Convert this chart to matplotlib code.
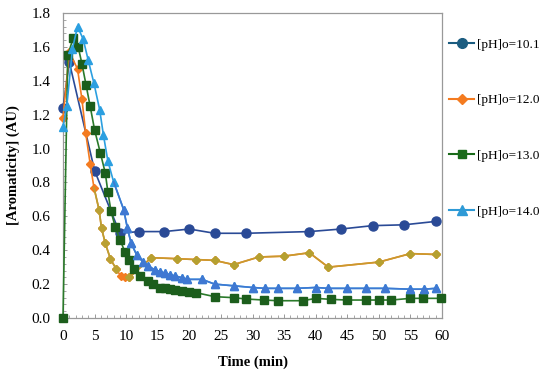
import matplotlib
matplotlib.use("Agg")
from matplotlib import pyplot as plt
from matplotlib.lines import Line2D
from matplotlib.ticker import MultipleLocator

# [pH]o = 10.1
t_101 = [0, 1, 5, 9, 12, 16, 20, 24, 29, 39, 44, 49, 54, 59]
a_101 = [1.24, 1.51, 0.87, 0.50, 0.51, 0.51, 0.525, 0.50, 0.50, 0.51, 0.525, 0.545, 0.55, 0.57]

# [pH]o = 12.0
t_120 = [0, 1, 2.3, 3, 3.6, 4.3, 4.9, 5.7, 6.1, 6.7, 7.5, 8.4, 9.2, 9.8, 10.5,
         14, 18, 21, 24, 27, 31, 35, 39, 42, 50, 55, 59]
a_120 = [1.18, 1.57, 1.47, 1.29, 1.09, 0.91, 0.77, 0.64, 0.53, 0.44, 0.35, 0.29, 0.245, 0.24, 0.24,
         0.356, 0.35, 0.345, 0.34, 0.315, 0.36, 0.365, 0.385, 0.30, 0.33, 0.38, 0.375]

# [pH]o = 13.0
t_130 = [0, 0.75, 1.6, 2.4, 3, 3.65, 4.3, 5, 5.9, 6.7, 7.1, 7.6, 8.25, 9.05, 9.8, 10.4,
         11.2, 12.2, 13.4, 14.3, 15.4, 16.2, 17, 17.8, 18.8, 19.9, 21, 24, 27, 29, 31.8,
         34, 38, 40, 42.4, 45, 48, 50, 52, 55, 57, 59.8]
a_130 = [0.0, 1.55, 1.65, 1.60, 1.50, 1.375, 1.25, 1.11, 0.976, 0.855, 0.745, 0.63, 0.54, 0.46, 0.39, 0.34,
         0.29, 0.245, 0.22, 0.20, 0.18, 0.175, 0.17, 0.165, 0.16, 0.155, 0.15, 0.126, 0.12, 0.112, 0.106,
         0.102, 0.102, 0.116, 0.11, 0.106, 0.106, 0.106, 0.106, 0.116, 0.116, 0.116]

# [pH]o = 14.0
t_140 = [0, 0.6, 1.5, 2.3, 3.2, 4.0, 4.9, 5.8, 6.4, 7.1, 8, 9.6, 10.2, 10.8, 11.7, 12.7, 13.5,
         14.6, 15.4, 16.2, 17, 17.8, 18.8, 19.7, 22, 24, 27, 30, 32, 34, 37, 40, 42, 45, 48,
         51, 55, 57.2, 59]
a_140 = [1.13, 1.25, 1.59, 1.72, 1.645, 1.52, 1.385, 1.23, 1.08, 0.927, 0.805, 0.64, 0.53, 0.44, 0.37, 0.33, 0.307,
         0.283, 0.273, 0.264, 0.254, 0.248, 0.238, 0.228, 0.228, 0.20, 0.19, 0.18, 0.175, 0.175, 0.175, 0.18, 0.175, 0.175, 0.175,
         0.175, 0.17, 0.17, 0.175]

labels = ["[pH]o=10.1", "[pH]o=12.0", "[pH]o=13.0", "[pH]o=14.0"]

plt.rcParams["font.family"] = ["Liberation Serif", "DejaVu Serif"]

fig = plt.figure(figsize=(5.5, 3.73), dpi=100)
ax = fig.add_axes([63/550, 1-318/373, (442-63)/550, (318-13)/373])

lw = 1.2
kw = dict(lw=lw, clip_on=False)
ax.plot(t_101, a_101, color="#2A4A96", marker="o", ms=6.5, zorder=3, **kw)

ax.plot(t_120, a_120, color="#F47B20", marker="D", ms=4.5, zorder=4, **kw)
ax.plot(t_120[6:12], a_120[6:12], color="#B9A033", marker="D", ms=4.5, zorder=4,
        markevery=list(range(1, 6)), **kw)
ax.plot(t_120[14:], a_120[14:], color="#C99A2E", zorder=4, **kw)
ax.plot(t_120[14:], a_120[14:], ls="none", color="#B5A030", marker="D", ms=4.5, zorder=4, clip_on=False)

ax.plot(t_130, a_130, color="#2A7A2A", marker="s", ms=5.5, mfc="#1C5E1C", mec="#1C5E1C", zorder=5, **kw)

ax.plot(t_140, a_140, color="#2B9FE0", marker="^", ms=6, zorder=6, **kw)
ax.plot(t_140[10:], a_140[10:], color="#3F78D2", marker="^", ms=6, zorder=6,
        markevery=list(range(1, len(t_140)-10)), **kw)

ax.set_xlim(0, 60)
ax.set_ylim(0, 1.8)
ax.xaxis.set_major_locator(MultipleLocator(5))
ax.xaxis.set_minor_locator(MultipleLocator(1))
ax.yaxis.set_major_locator(MultipleLocator(0.2))
ax.yaxis.set_minor_locator(MultipleLocator(0.04))
ax.yaxis.set_major_formatter(matplotlib.ticker.FormatStrFormatter("%.1f"))
ax.tick_params(which="both", direction="in", colors="#999999", labelcolor="black", labelsize=11)
ax.tick_params(which="major", length=3, width=0.7)
ax.tick_params(which="minor", length=2, width=0.6)
ax.tick_params(axis="x", pad=9)
ax.tick_params(axis="y", pad=9)
for s in ax.spines.values():
    s.set_color("#999999")
    s.set_linewidth(0.9)

ax.set_xlabel("Time (min)", fontsize=10.5, fontweight="bold", labelpad=9)
ax.set_ylabel("[Aromaticity] (AU)", fontsize=10.5, fontweight="bold", labelpad=8)

handles = [
    Line2D([], [], color="#1B5C80", marker="o", ms=7, lw=1.5),
    Line2D([], [], color="#F47B20", marker="D", ms=5, lw=1.5),
    Line2D([], [], color="#1A6B1A", marker="s", ms=6, lw=1.5),
    Line2D([], [], color="#2E9AD6", marker="^", ms=6.5, lw=1.5),
]
fig.legend(handles, labels, loc="upper left", bbox_to_anchor=(444/550, 1-33/373),
           frameon=False, fontsize=9.5, labelspacing=3.3, handlelength=1.9,
           handletextpad=0.2, borderaxespad=0)

fig.savefig("out.png", dpi=100)
